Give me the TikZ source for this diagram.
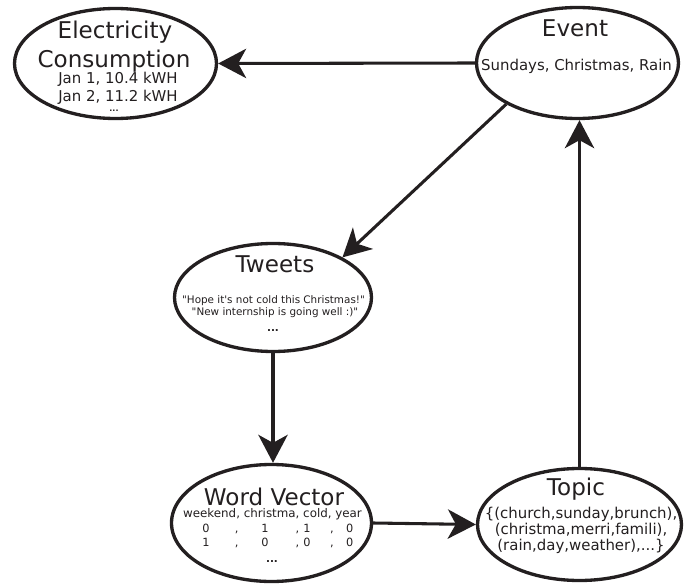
\documentclass[tikz,border=0pt]{standalone}
\usepackage{fontspec}
\setmainfont{DejaVu Sans}
\usetikzlibrary{shapes.geometric,arrows.meta}
\definecolor{ink}{RGB}{35,31,32}
% one row of the word vector, spaced as in the table
\newcommand{\vecrow}[4]{#1\hspace{19pt},\hspace{17.2pt}#2\hspace{20.3pt},\hspace{3.1pt}#3\hspace{14.5pt},\hspace{9.3pt}#4}
\newcommand{\more}{\textbf{...}}
\tikzset{
  bubble/.style={draw=ink, line width=2.5pt, ellipse, inner sep=0pt},
  title/.style={anchor=base, inner sep=0pt, text=ink, font=\fontsize{17.3}{18}\selectfont},
  info/.style={anchor=base, inner sep=0pt, text=ink, font=\fontsize{11.2}{12}\selectfont},
  quote/.style={anchor=base, inner sep=0pt, text=ink, font=\fontsize{7.8}{8}\selectfont},
  flow/.style={draw=ink, line width=2.3pt, -{Stealth[length=21pt,width=22pt,inset=6pt]}},
}
\begin{document}
\begin{tikzpicture}[x=0.75pt, y=-0.75pt]
\useasboundingbox (0,0) rectangle (686,585);

% electricity consumption
\node[title] (elec-a) at (115,39) {Electricity};
\node[title] (elec-b) at (114,68) {Consumption};
\node[info] (elec-c) at (118,84) {Jan 1, 10.4 kWH};
\node[info] (elec-d) at (118,102) {Jan 2, 11.2 kWH};
\node[quote, font=\fontsize{6}{6}\selectfont] (elec-e) at (114,112) {\more};

% event
\node[title] (event-a) at (575,37) {Event};
\node[info] (event-b) at (576.5,71) {Sundays, Christmas, Rain};

% tweets
\node[title] (tweets-a) at (275,272) {Tweets};
\node[quote] (tweets-b) at (273.5,303) {\textquotedbl Hope it\textquotesingle s not cold this Christmas!\textquotedbl};
\node[quote] (tweets-c) at (275,315) {\textquotedbl New internship is going well :)\textquotedbl};
\node[quote] (tweets-d) at (273,331) {\more};

% word vector
\node[title] (wordvec-a) at (274,505) {Word Vector};
\node[quote, font=\fontsize{8.9}{9}\selectfont] (wordvec-b) at (272.5,517) {weekend, christma, cold, year};
\node[quote, font=\fontsize{8.5}{9}\selectfont] (wordvec-c) at (277.8,532) {\vecrow{0}{1}{1}{0}};
\node[quote, font=\fontsize{8.5}{9}\selectfont] (wordvec-d) at (277.8,546) {\vecrow{1}{0}{0}{0}};
\node[quote] (wordvec-e) at (272,562) {\more};

% topic
\node[title] (topic-a) at (576,495) {Topic};
\node[info] (topic-b) at (581,518) {\{(church,sunday,brunch),};
\node[info] (topic-c) at (581,534) {(christma,merri,famili),};
\node[info] (topic-d) at (581,550) {(rain,day,weather),...\}};

\node[bubble, minimum width=151.5pt, minimum height=82.5pt] (elec) at (115.5,63.5) {};
\node[bubble, minimum width=151.5pt, minimum height=83.25pt] (event) at (577.5,63) {};
\node[bubble, minimum width=147.75pt, minimum height=81pt] (tweets) at (273,297.5) {};
\node[bubble, minimum width=150pt, minimum height=87.75pt] (wordvec) at (271.5,523) {};
\node[bubble, minimum width=153pt, minimum height=84pt] (topic) at (579.5,524.5) {};

\draw[flow] (event.west) -- (elec.east);
\draw[flow] (event.210) -- (tweets.30);
\draw[flow] (tweets.south) -- (tweets.south |- wordvec.north);
\draw[flow] (wordvec.east) -- (topic.west);
\draw[flow] (topic.north) -- (topic.north |- event.south);

\end{tikzpicture}
\end{document}
